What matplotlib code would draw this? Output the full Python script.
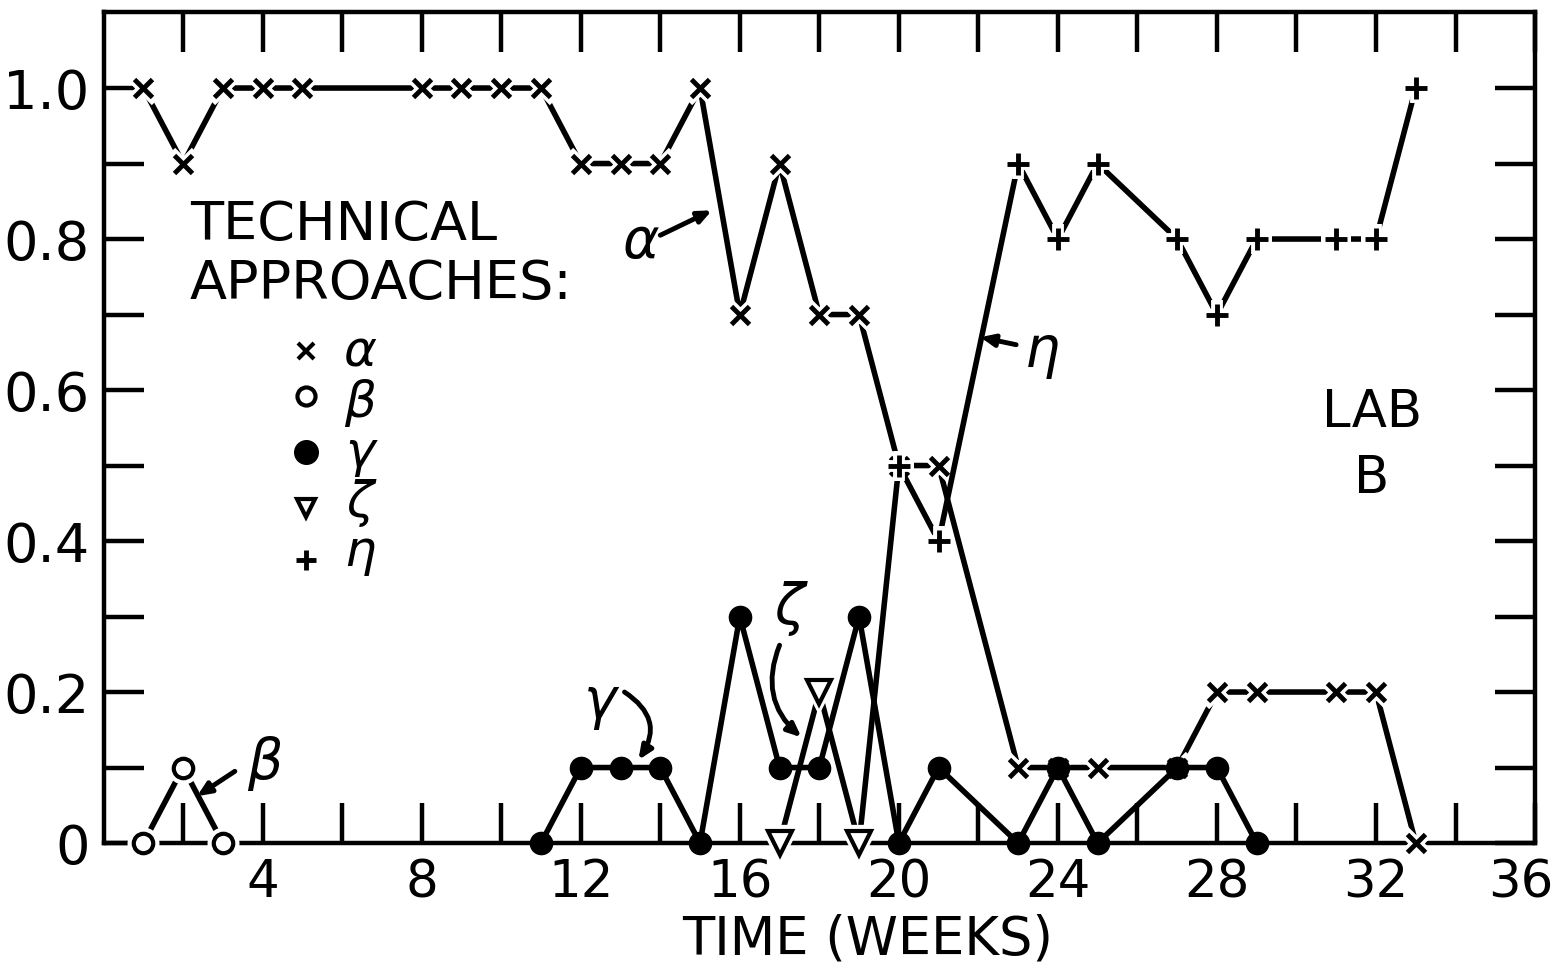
import matplotlib
matplotlib.use("Agg")
import matplotlib.pyplot as plt
from matplotlib.transforms import ScaledTranslation

# ---------------- data ----------------
alpha_weeks = [1, 2, 3, 4, 5, 8, 9, 10, 11, 12, 13, 14, 15, 16, 17, 18, 19, 20, 21,
               23, 24, 25, 27, 28, 29, 31, 32, 33]
alpha_vals = [1.0, 0.9, 1.0, 1.0, 1.0, 1.0, 1.0, 1.0, 1.0, 0.9, 0.9, 0.9, 1.0, 0.7, 0.9,
              0.7, 0.7, 0.5, 0.5, 0.1, 0.1, 0.1, 0.1, 0.2, 0.2, 0.2, 0.2, 0.0]

beta_weeks = [1, 2, 3]
beta_vals = [0.0, 0.1, 0.0]

gamma_weeks = [11, 12, 13, 14, 15, 16, 17, 18, 19, 20, 21, 23, 24, 25, 27, 28, 29]
gamma_vals = [0.0, 0.1, 0.1, 0.1, 0.0, 0.3, 0.1, 0.1, 0.3, 0.0, 0.1, 0.0, 0.1, 0.0,
              0.1, 0.1, 0.0]

zeta_weeks = [17, 18, 19]
zeta_vals = [0.0, 0.2, 0.0]

eta_weeks = [19, 20, 21, 23, 24, 25, 27, 28, 29, 31, 32, 33]
eta_vals = [0.0, 0.5, 0.4, 0.9, 0.8, 0.9, 0.8, 0.7, 0.8, 0.8, 0.8, 1.0]

x_tick_labels = ["4", "8", "12", "16", "20", "24", "28", "32", "36"]
y_tick_labels = ["0", "0.2", "0.4", "0.6", "0.8", "1.0"]

legend_symbols = ["\u03b1", "\u03b2", "\u03b3", "\u03b6", "\u03b7"]
legend_title = ["TECHNICAL", "APPROACHES:"]

# ---------------- figure ----------------
plt.rcParams['font.family'] = ['DejaVu Sans']
fig = plt.figure(figsize=(15.63, 9.68), dpi=100)
ax = fig.add_axes([0.0663, 0.1291, 0.9158, 0.8585])
ax.set_xlim(0, 36)
ax.set_ylim(0, 1.1007)

LW = 4.0


def draw_series(weeks, vals, mk, ms, z, markevery=None, mfc="black", mew=3.5, halo=5):
    ax.plot(weeks, vals, color="black", lw=LW, clip_on=False,
            solid_capstyle="butt", zorder=z)
    # white halo around markers: gives the hand-inked gap between line and symbol
    if halo > 0:
        ax.plot(weeks, vals, ls="none", marker=mk, ms=ms + halo, mfc="white", mec="white",
                mew=mew + halo, markevery=markevery, clip_on=False, zorder=z + 0.1)
    ax.plot(weeks, vals, ls="none", marker=mk, ms=ms, mfc=mfc, mec="black",
            mew=mew, markevery=markevery, clip_on=False, zorder=z + 0.2)


draw_series(alpha_weeks, alpha_vals, "x", 13, 3)
draw_series(eta_weeks, eta_vals, "+", 16, 4, markevery=list(range(1, len(eta_weeks))))
draw_series(gamma_weeks, gamma_vals, "o", 16, 5, mew=1, halo=0)
draw_series(beta_weeks, beta_vals, "o", 14, 5, mfc="white", mew=3, halo=3)
draw_series(zeta_weeks, zeta_vals, "v", 17, 6, mfc="white", mew=3, halo=3)

# ---------------- axes styling ----------------
for s in ax.spines.values():
    s.set_linewidth(3.2)
ax.set_xticks([4, 8, 12, 16, 20, 24, 28, 32, 36])
ax.set_xticklabels(x_tick_labels)
ax.set_xticks([2, 6, 10, 14, 18, 22, 26, 30, 34], minor=True)
ax.set_yticks([0, 0.2, 0.4, 0.6, 0.8, 1.0])
ax.set_yticklabels(y_tick_labels)
ax.set_yticks([0.1, 0.3, 0.5, 0.7, 0.9], minor=True)
ax.tick_params(which="both", direction="in", length=29, width=3.2,
               top=True, right=True)
ax.tick_params(axis="x", which="major", labelsize=37, pad=11)
ax.tick_params(axis="y", which="major", labelsize=39, pad=10)

# last x label sits just inside the figure edge, as in the original
last = ax.get_xticklabels()[-1]
last.set_transform(last.get_transform() + ScaledTranslation(-14 / 100, 0, fig.dpi_scale_trans))

ax.set_xlabel("TIME (WEEKS)", fontsize=38)
ax.xaxis.set_label_coords(0.534, -0.085)

# ---------------- in-plot legend ----------------
ax.text(2.17, 0.799, legend_title[0], fontsize=39, ha="left", va="baseline")
ax.text(2.17, 0.720, legend_title[1], fontsize=39, ha="left", va="baseline")

leg_x_marker = 5.1
leg_x_text = 6.45
leg_rows = [0.652, 0.592, 0.518, 0.444, 0.375]
leg_markers = [dict(marker="x", ms=11, mew=3, mec="black"),
               dict(marker="o", ms=13, mfc="white", mec="black", mew=3),
               dict(marker="o", ms=17, mfc="black", mec="black"),
               dict(marker="v", ms=13, mfc="white", mec="black", mew=3),
               dict(marker="+", ms=15, mew=3.5, mec="black")]
for ypos, mk in zip(leg_rows, leg_markers):
    ax.plot([leg_x_marker], [ypos], ls="none", **mk)
# the five symbols as one stacked text block
ax.text(leg_x_text, 0.681, "\n".join(legend_symbols), fontsize=36, style="italic",
        ha="center", va="top", linespacing=1.05, multialignment="center")

# ---------------- annotations ----------------
arrow = dict(arrowstyle="-|>,head_length=0.8,head_width=0.35", color="black", lw=3.5,
             shrinkA=0, shrinkB=0)
ax.text(13.5, 0.775, "\u03b1", fontsize=40, style="italic", ha="center", va="baseline")
ax.annotate("", xy=(15.3, 0.838), xytext=(14.0, 0.805), arrowprops=arrow)

ax.text(4.05, 0.085, "\u03b2", fontsize=40, style="italic", ha="center", va="baseline")
ax.annotate("", xy=(2.35, 0.062), xytext=(3.3, 0.095), arrowprops=arrow)

ax.text(12.5, 0.165, "\u03b3", fontsize=40, style="italic", ha="center", va="baseline")
ax.annotate("", xy=(13.45, 0.11), xytext=(13.1, 0.2),
            arrowprops=dict(arrow, connectionstyle="arc3,rad=-0.5"))

ax.text(17.25, 0.29, "\u03b6", fontsize=40, style="italic", ha="center", va="baseline")
ax.annotate("", xy=(17.55, 0.14), xytext=(17.0, 0.262),
            arrowprops=dict(arrow, connectionstyle="arc3,rad=0.35"))

ax.text(23.6, 0.63, "\u03b7", fontsize=40, style="italic", ha="center", va="baseline")
ax.annotate("", xy=(22.05, 0.67), xytext=(22.95, 0.66), arrowprops=arrow)

ax.text(31.9, 0.551, "LAB", fontsize=37, ha="center", va="baseline")
ax.text(31.9, 0.4636, "B", fontsize=37, ha="center", va="baseline")

fig.savefig("out.png", dpi=100)
